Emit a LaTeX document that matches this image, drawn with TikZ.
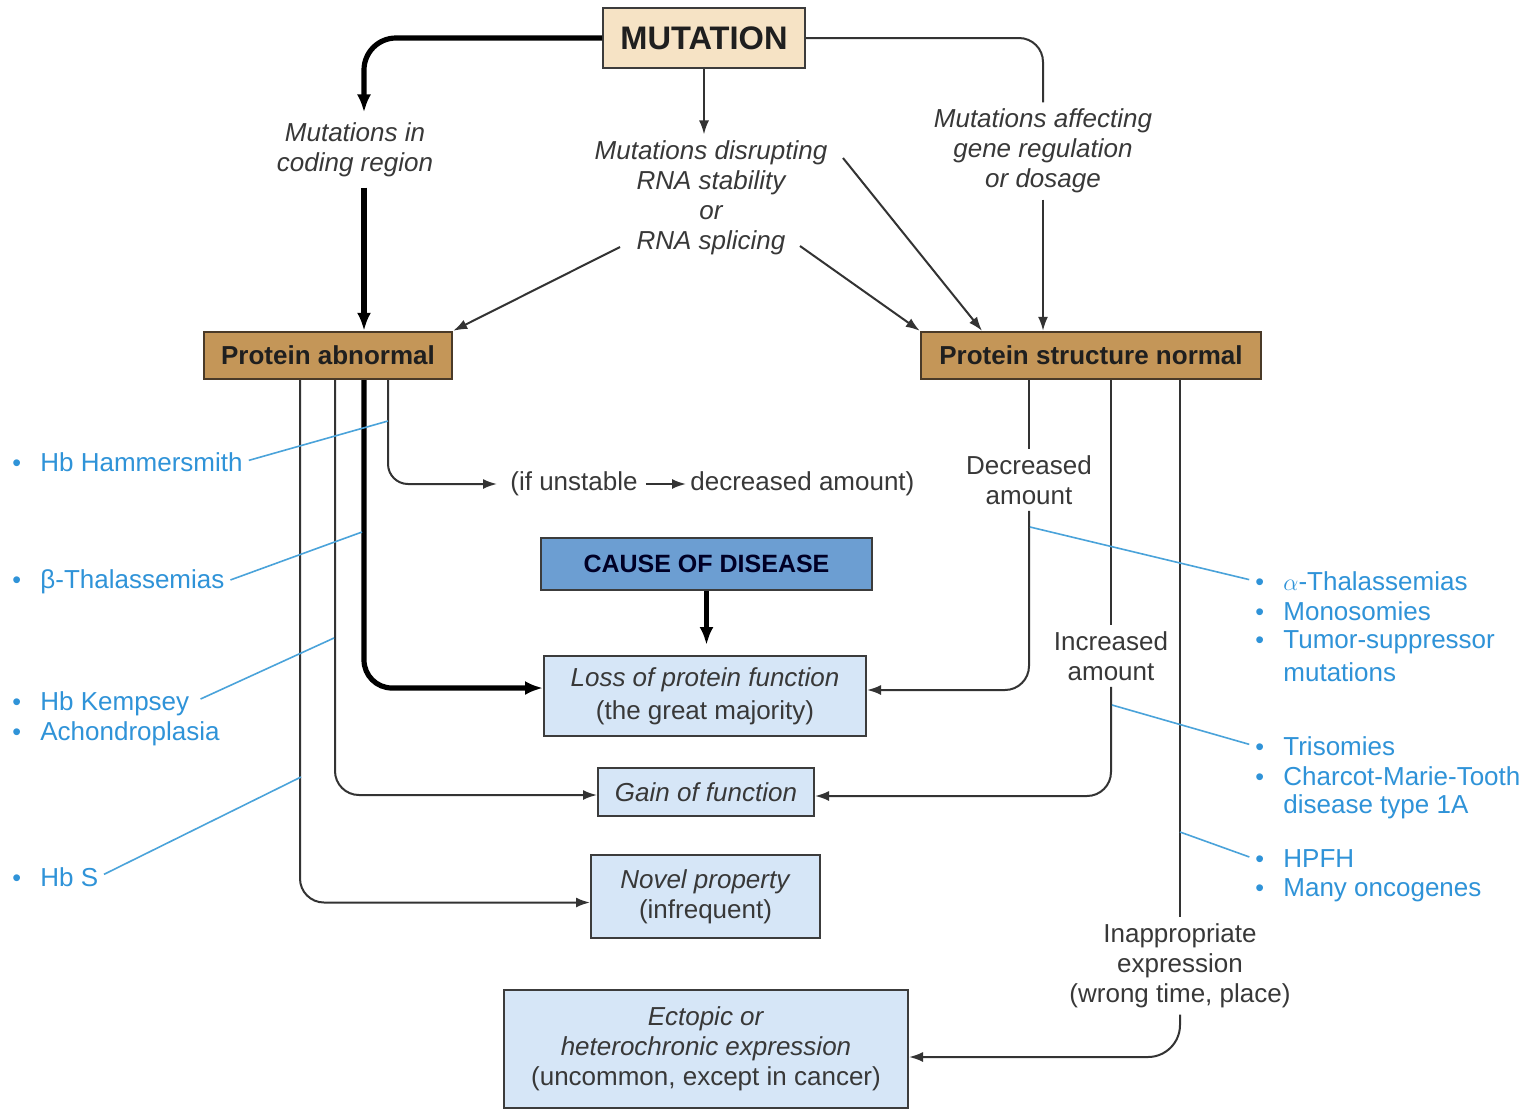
\documentclass[tikz,border=0pt]{standalone}
\usepackage{fontspec}
\setmainfont{Liberation Sans}
\usetikzlibrary{arrows.meta}

\definecolor{mutfill}{HTML}{F6E3C5}
\definecolor{protfill}{HTML}{C49658}
\definecolor{protedge}{HTML}{4A3A28}
\definecolor{causefill}{HTML}{6C9ED2}
\definecolor{resfill}{HTML}{D6E6F7}
\definecolor{edgegray}{HTML}{3C3C3C}
\definecolor{labelgray}{HTML}{383838}
\definecolor{listblue}{HTML}{2F93D8}
\definecolor{leadblue}{HTML}{4AA3DA}

% bullet followed by a fixed gap, so list texts line up
\newcommand{\listbullet}{\makebox[14pt][l]{\fontsize{12.5}{15}\selectfont\textbullet}}
\newcommand{\nobullet}{\makebox[14pt][l]{}}

\begin{document}
\begin{tikzpicture}[x=0.5pt,y=-0.5pt,
  txt/.style={font=\fontsize{13}{15}\selectfont, text=labelgray},
  lbl/.style={txt, align=center, inner sep=3pt},
  ilbl/.style={lbl, font=\fontsize{13}{15}\selectfont\itshape},
  box/.style={draw=edgegray, line width=1pt, inner sep=0pt, align=center},
  mutbox/.style={box, fill=mutfill, font=\fontsize{16.3}{18}\selectfont\bfseries, text=black!88},
  protbox/.style={box, draw=protedge, line width=1.2pt, fill=protfill, font=\fontsize{13}{15}\selectfont\bfseries, text=black!88},
  causebox/.style={box, fill=causefill, font=\fontsize{12.5}{15}\selectfont\bfseries, text=black!85!blue},
  resbox/.style={box, fill=resfill, font=\fontsize{13}{15}\selectfont, text=labelgray},
  link/.style={draw=black!80, line width=1pt},
  arr/.style={link, -{Latex[length=7pt,width=5pt]}},
  thickline/.style={draw=black, line width=2.6pt},
  thickarr/.style={thickline, -{Latex[length=9pt,width=7pt]}},
  lead/.style={draw=leadblue, line width=0.8pt},
  item/.style={anchor=west, inner sep=0pt, text=listblue, font=\fontsize{13}{15}\selectfont}
]
\useasboundingbox[fill=white] (0,0) rectangle (1537,1110);

% ---- boxes ----
\node[mutbox, minimum width=101pt, minimum height=30pt] (mut) at (704,38) {MUTATION};
\node[protbox, minimum width=124pt, minimum height=23.5pt] (pa) at (328,355.5) {Protein abnormal};
\node[protbox, minimum width=170pt, minimum height=23.5pt] (psn) at (1091,355.5) {Protein structure normal};
\node[causebox, minimum width=165.5pt, minimum height=26pt] (cause) at (706.5,564) {CAUSE OF DISEASE};
\node[resbox, minimum width=161pt, minimum height=40pt] (loss) at (705,696)
  {\textit{Loss of protein function}\\[1.5pt](the great majority)};
\node[resbox, minimum width=108pt, minimum height=24pt] (gain) at (706,792) {\textit{Gain of function}};
\node[resbox, minimum width=114.5pt, minimum height=41.5pt] (novel) at (705.5,896.5)
  {\textit{Novel property}\\(infrequent)};
\node[resbox, minimum width=202pt, minimum height=59pt] (ecto) at (706,1049)
  {\textit{Ectopic or}\\\textit{heterochronic expression}\\(uncommon, except in cancer)};

% ---- labels ----
\node[ilbl, inner sep=5pt] (code) at (355,150) {Mutations in\\coding region};
\node[ilbl] (rna) at (711,198) {Mutations disrupting\\RNA stability\\or\\RNA splicing};
\node[ilbl] (reg) at (1043,151) {Mutations affecting\\gene regulation\\or dosage};
\node[lbl] (dec) at (1029,480) {Decreased\\amount};
\node[lbl] (inc) at (1111,656) {Increased\\amount};
\node[lbl] (inap) at (1180,966) {Inappropriate\\expression\\(wrong time, place)};
\node[txt, anchor=west, inner sep=0pt] (unst) at (510,484) {(if unstable};
\node[txt, anchor=west, inner sep=0pt] (decr) at (690,484) {decreased amount)};

% ---- branch positions ----
\coordinate (pa1) at (300,0);
\coordinate (pa2) at (335,0);
\coordinate (pa3) at (364,0);
\coordinate (pa4) at (388,0);
\coordinate (pq)  at (982,0);
\coordinate (rs1) at (620,247);
\coordinate (rs2) at (800,246);
\coordinate (rs3) at (843,158);

% ---- from MUTATION ----
\draw[thickarr, rounded corners=16pt] (mut.west) -| (code.north -| pa3);
\draw[arr] (mut.south) -- (mut.south |- rna.north);
\draw[link, rounded corners=12pt] (mut.east) -| (reg.north);

% ---- to the protein boxes ----
\draw[thickarr] (code.south -| pa3) -- (pa.north -| pa3);
\draw[arr] (rs1) -- (pa.north east);
\draw[arr] (rs2) -- (psn.north west);
\draw[arr] (rs3) -- (psn.north -| pq);
\draw[arr] (reg.south) -- (reg.south |- psn.north);

% ---- protein abnormal branches ----
\draw[arr, rounded corners=10pt, shorten >=6.5pt] (pa.south -| pa4) |- (unst.west);
\draw[arr, shorten <=4pt, shorten >=2pt] (unst.east) -- (decr.west);
\draw[thickarr, rounded corners=14pt] (pa.south -| pa3) |- ([yshift=4pt]loss.west);
\draw[arr, rounded corners=12pt] (pa.south -| pa2) |- ([yshift=-1.5pt]gain.west);
\draw[arr, rounded corners=12pt] (pa.south -| pa1) |- ([yshift=-3pt]novel.west);
\draw[thickarr, shorten >=5pt] (cause.south) -- (cause.south |- loss.north);

% ---- protein structure normal branches ----
\draw[link] (psn.south -| dec.north) -- (dec.north);
\draw[arr, rounded corners=12pt] (dec.south) |- ([yshift=3pt]loss.east);
\draw[link] (psn.south -| inc.north) -- (inc.north);
\draw[arr, rounded corners=12pt] (inc.south) |- ([yshift=-2pt]gain.east);
\draw[link] (psn.south -| inap.north) -- (inap.north);
\draw[arr, rounded corners=16pt] (inap.south) |- ([yshift=-4pt]ecto.east);

% ---- example lists, left ----
\node[item] (lh)  at (12,462) {\listbullet Hb Hammersmith};
\node[item] (lb)  at (12,582) {\listbullet β-Thalassemias};
\node[item] (lk1) at (12,704) {\listbullet Hb Kempsey};
\node[item] (lk2) at (12,734) {\listbullet Achondroplasia};
\node[item] (ls)  at (12,877) {\listbullet Hb S};

% ---- example lists, right ----
\node[item] (ra1) at (1255,581) {\listbullet $\alpha$-Thalassemias};
\node[item] (ra2) at (1255,611) {\listbullet Monosomies};
\node[item] (ra3) at (1255,642) {\listbullet Tumor-suppressor};
\node[item] (ra4) at (1255,672) {\nobullet mutations};
\node[item] (rt1) at (1255,746) {\listbullet Trisomies};
\node[item] (rt2) at (1255,776) {\listbullet Charcot-Marie-Tooth};
\node[item] (rt3) at (1255,807) {\nobullet disease type 1A};
\node[item] (rh1) at (1255,859) {\listbullet HPFH};
\node[item] (rh2) at (1255,890) {\listbullet Many oncogenes};

% ---- leader lines ----
\coordinate (gh) at (388,421);
\coordinate (gb) at (362,532);
\coordinate (gk) at (334,638);
\coordinate (gs) at (301,777);
\coordinate (ga) at (1030,527);
\coordinate (gt) at (1112,705);
\coordinate (gp) at (1180,832);
\draw[lead, shorten <=3pt] (lh.east) -- (gh);
\draw[lead, shorten <=3pt] (lb.east) -- (gb);
\draw[lead, shorten <=6pt] (lk1.east) -- (gk);
\draw[lead, shorten <=3pt] (ls.east) -- (gs);
\draw[lead, shorten >=3pt] (ga) -- (ra1.west);
\draw[lead, shorten >=3pt] (gt) -- (rt1.west);
\draw[lead, shorten >=3pt] (gp) -- (rh1.west);
\end{tikzpicture}
\end{document}
